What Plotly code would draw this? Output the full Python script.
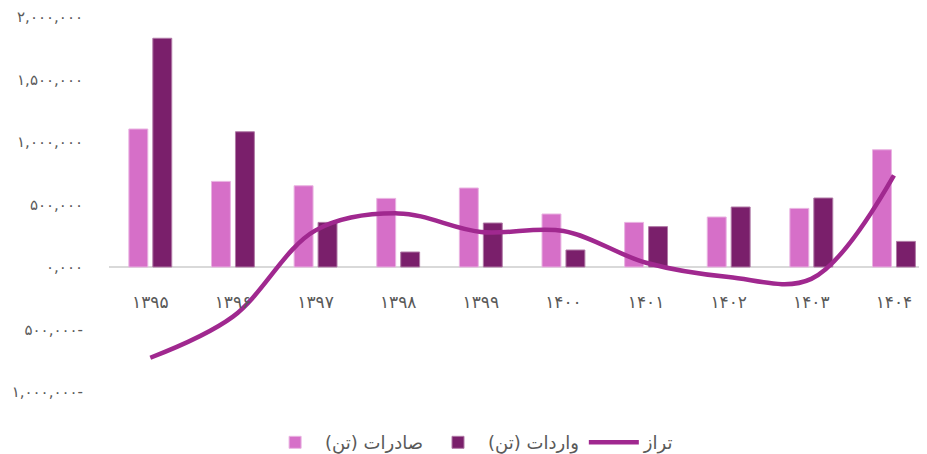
import plotly.graph_objects as go

years = ["۱۳۹۵", "۱۳۹۶", "۱۳۹۷", "۱۳۹۸", "۱۳۹۹", "۱۴۰۰", "۱۴۰۱", "۱۴۰۲", "۱۴۰۳", "۱۴۰۴"]
exports = [1104000, 685000, 650000, 549000, 632000, 424000, 357000, 400000, 469000, 938000]
imports = [1830000, 1082000, 357000, 120000, 352000, 136000, 323000, 480000, 552000, 205000]
balance = [-726000, -397000, 293000, 429000, 280000, 288000, 34000, -80000, -95000, 733000]

tick_vals = [2000000, 1500000, 1000000, 500000, 0, -500000, -1000000]
tick_text = ["۲,۰۰۰,۰۰۰", "۱,۵۰۰,۰۰۰", "۱,۰۰۰,۰۰۰", "۵۰۰,۰۰۰", "۰,۰۰۰", "۵۰۰,۰۰۰-", "۱,۰۰۰,۰۰۰-"]

font = "DejaVu Sans"
grey = "#595959"

fig = go.Figure()
fig.add_trace(go.Bar(
    x=years, y=exports, name="صادرات (تن)",
    marker=dict(color="#D66FC8", line=dict(color="#E9B3E1", width=1)),
))
fig.add_trace(go.Bar(
    x=years, y=imports, name="واردات (تن)",
    marker=dict(color="#7A1F6B", line=dict(color="#B07AA6", width=1)),
))
fig.add_trace(go.Scatter(
    x=years, y=balance, name="تراز", mode="lines",
    line=dict(color="#A0288F", width=4.5, shape="spline", smoothing=1),
))

# the page body has an 8px margin, so the figure is 8px smaller than the window
fig.update_layout(
    width=919, height=446,
    margin=dict(l=101, r=0, t=9, b=62, autoexpand=False),
    paper_bgcolor="white", plot_bgcolor="white",
    barmode="group", bargap=0.42, bargroupgap=0.21,
    font=dict(family=font, color=grey, size=15),
    showlegend=True,
    legend=dict(
        orientation="h", xref="container", x=0.505, xanchor="center",
        y=-0.135, yanchor="middle", font=dict(size=18, color=grey),
        traceorder="normal", itemwidth=50,
    ),
)
fig.update_xaxes(
    range=[-0.5, 9.4], anchor="free", position=(392 - 268) / 375,
    showline=False, showgrid=False, ticks="", ticklabelstandoff=22,
    tickangle=0, automargin=False,
    tickfont=dict(size=17, color=grey),
)
fig.update_yaxes(
    range=[-1000000, 2000000], tickvals=tick_vals, ticktext=tick_text,
    showgrid=False, zeroline=True, zerolinecolor="#D9D9D9", zerolinewidth=1.5,
    ticks="", ticklabelstandoff=25, automargin=False, ticklabeloverflow="allow",
    tickfont=dict(size=15, color=grey),
)

fig.write_html("out.html")
